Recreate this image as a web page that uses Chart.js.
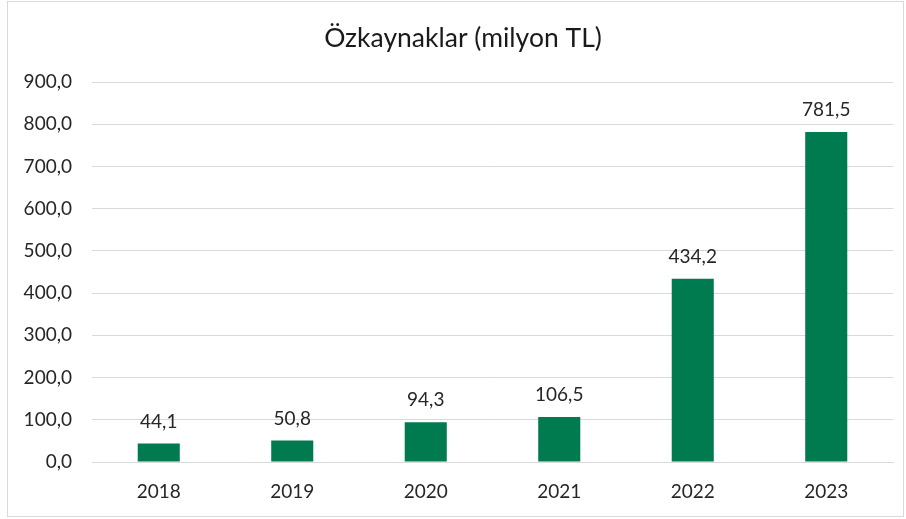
<!DOCTYPE html>
<html>
<head>
<meta charset="utf-8">
<script src="https://cdn.jsdelivr.net/npm/chart.js@4/dist/chart.umd.min.js"></script>
<style>
  html, body { margin: 0; padding: 0; background: #fff; }
  canvas { display: block; }
</style>
</head>
<body>
<canvas id="equity-chart" width="906" height="519"></canvas>
<script>
// values
const years = ["2018", "2019", "2020", "2021", "2022", "2023"];
const equity = [44.1, 50.8, 94.3, 106.5, 434.2, 781.5];
const yTicks = [0, 100, 200, 300, 400, 500, 600, 700, 800, 900];
const titleText = "Özkaynaklar (milyon TL)";

const FONT = "Lato, 'Open Sans', sans-serif";
const fmt = v => v.toFixed(1).replace(".", ",");

// frame, title (centred a bit right like the original) and value labels
const decorations = {
  id: "decorations",
  beforeDraw(chart) {
    const c = chart.ctx;
    c.save();
    c.fillStyle = "#fff";
    c.fillRect(0, 0, chart.width, chart.height);
    c.strokeStyle = "#d9d9d9";
    c.lineWidth = 1;
    c.strokeRect(7.5, 1.5, chart.width - 10, chart.height - 4);
    c.font = "26.5px " + FONT;
    c.fillStyle = "#1a1a1a";
    c.textAlign = "center";
    c.textBaseline = "middle";
    c.fillText(titleText, 463, 38);
    c.restore();
  },
  afterDatasetsDraw(chart) {
    const c = chart.ctx;
    const meta = chart.getDatasetMeta(0);
    c.save();
    c.font = "19px " + FONT;
    c.fillStyle = "#262626";
    c.textAlign = "center";
    c.textBaseline = "middle";
    meta.data.forEach((bar, i) => {
      c.fillText(fmt(equity[i]), bar.x, bar.y - 22);
    });
    c.restore();
  }
};

var ctx = document.getElementById("equity-chart").getContext("2d");
var equityChart = new Chart(ctx, {
  type: "bar",
  data: {
    labels: years,
    datasets: [{
      data: equity,
      backgroundColor: "#007a4f",
      borderWidth: 0,
      barPercentage: 0.315,
      categoryPercentage: 1.0,
    }],
  },
  options: {
    responsive: false,
    animation: false,
    layout: { padding: { left: 0, right: 13, top: 82, bottom: 0 } },
    plugins: {
      legend: { display: false },
      tooltip: { enabled: false },
      title: { display: false },
    },
    scales: {
      x: {
        grid: { display: false, drawTicks: false },
        border: { display: true, color: "#d9d9d9", width: 1 },
        ticks: { color: "#262626", font: { family: FONT, size: 19 }, padding: 18 },
        afterFit(scale) { scale.height = 57; },
      },
      y: {
        min: 0,
        max: 900,
        afterBuildTicks(scale) { scale.ticks = yTicks.map(v => ({ value: v })); },
        grid: { color: "#d9d9d9", drawTicks: false },
        border: { display: false },
        ticks: {
          color: "#262626",
          font: { family: FONT, size: 19 },
          padding: 20,
          callback: v => fmt(v),
        },
        afterFit(scale) { scale.width = 92; },
      },
    },
  },
  plugins: [decorations],
});
</script>
</body>
</html>
